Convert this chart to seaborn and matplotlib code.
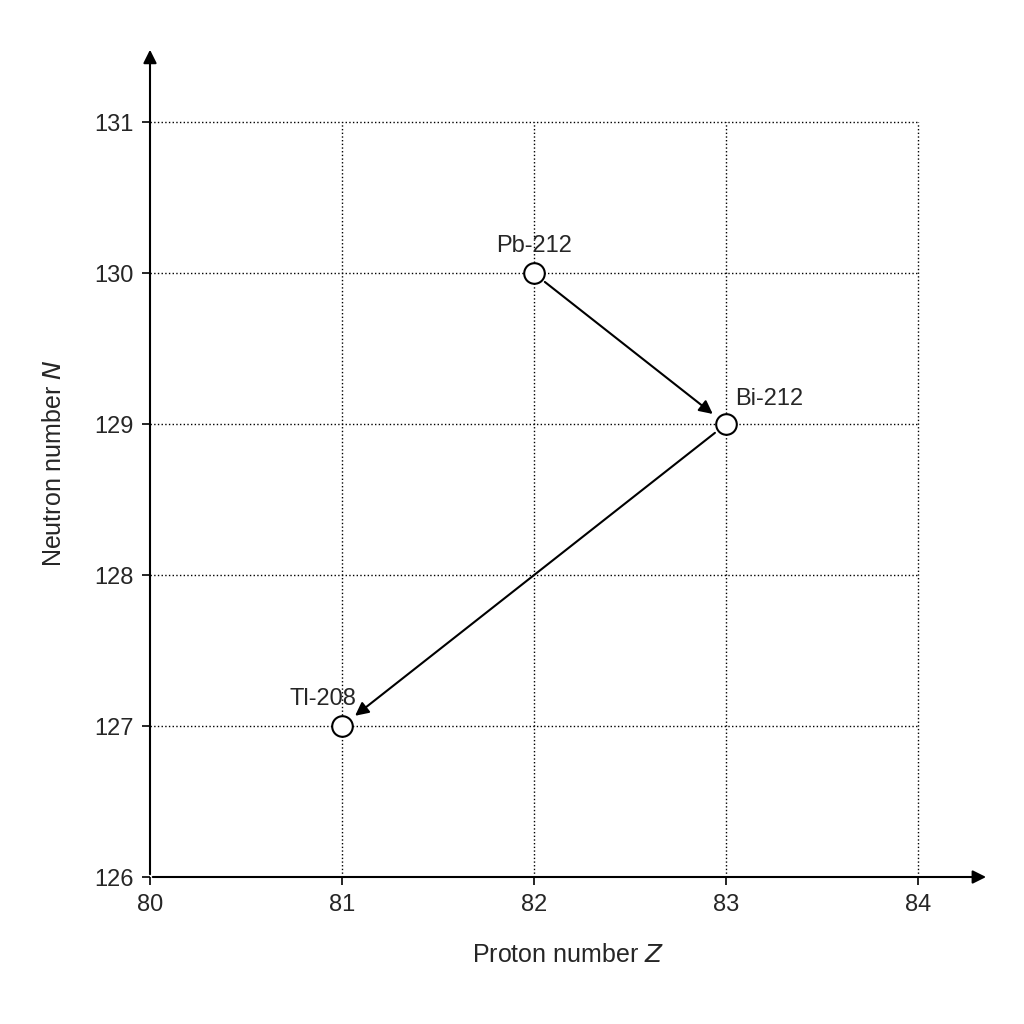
import matplotlib
matplotlib.use("Agg")
import matplotlib.pyplot as plt
import seaborn as sns
import pandas as pd

sns.set_theme(style="white")
plt.rcParams['font.family'] = ['Liberation Sans', 'DejaVu Sans']

nuclides = ["Pb-212", "Bi-212", "Tl-208"]
Z = [82, 83, 81]
N = [130, 129, 127]
x_ticks = [80, 81, 82, 83, 84]
y_ticks = [126, 127, 128, 129, 130, 131]
df = pd.DataFrame({"Z": Z, "N": N, "name": nuclides})

fig = plt.figure(figsize=(10.24, 10.24), dpi=100)
ax = fig.add_axes([150/1024, 147/1024, 835/1024, 827/1024])
ax.set_xlim(80, 84.35)
ax.set_ylim(126, 131.48)
for s in ax.spines.values():
    s.set_visible(False)

# grid
for x in x_ticks[1:]:
    ax.plot([x, x], [126, 131], ls=':', color='black', lw=1)
for y in y_ticks[1:]:
    ax.plot([80, 84], [y, y], ls=':', color='black', lw=1)

# axes with arrows
ax.annotate("", xy=(84.37, 126), xytext=(80, 126),
            arrowprops=dict(arrowstyle='-|>', color='black', lw=1.5, mutation_scale=20), annotation_clip=False)
ax.annotate("", xy=(80, 131.5), xytext=(80, 126),
            arrowprops=dict(arrowstyle='-|>', color='black', lw=1.5, mutation_scale=20), annotation_clip=False)

ax.set_xticks(x_ticks)
ax.set_yticks(y_ticks)
ax.tick_params(axis='both', labelsize=17, length=6, width=1.2, color='black', direction='out',
               bottom=True, left=True, pad=6)
ax.set_xlabel("Proton number $Z$", fontsize=18, labelpad=20)
ax.set_ylabel("Neutron number $N$", fontsize=18, labelpad=20)

# decay arrows
pairs = [(0, 1), (1, 2)]
for a, b in pairs:
    ax.annotate("", xy=(Z[b], N[b]), xytext=(Z[a], N[a]),
                arrowprops=dict(arrowstyle='-|>', color='black', lw=1.5, mutation_scale=20,
                                shrinkA=10, shrinkB=12))

sns.scatterplot(data=df, x="Z", y="N", ax=ax, s=220, facecolor='white', edgecolor='black',
                linewidth=1.5, zorder=5, legend=False)
ax.set_xlabel("Proton number $Z$", fontsize=18, labelpad=20)
ax.set_ylabel("Neutron number $N$", fontsize=18, labelpad=20)

offsets = {"Pb-212": (0, 0.18, 'center'), "Bi-212": (0.05, 0.17, 'left'), "Tl-208": (-0.1, 0.18, 'center')}
for n, z, nn in zip(nuclides, Z, N):
    dx, dy, ha = offsets[n]
    ax.text(z + dx, nn + dy, n, fontsize=17, ha=ha, va='center')

fig.savefig("out.png", dpi=100)
